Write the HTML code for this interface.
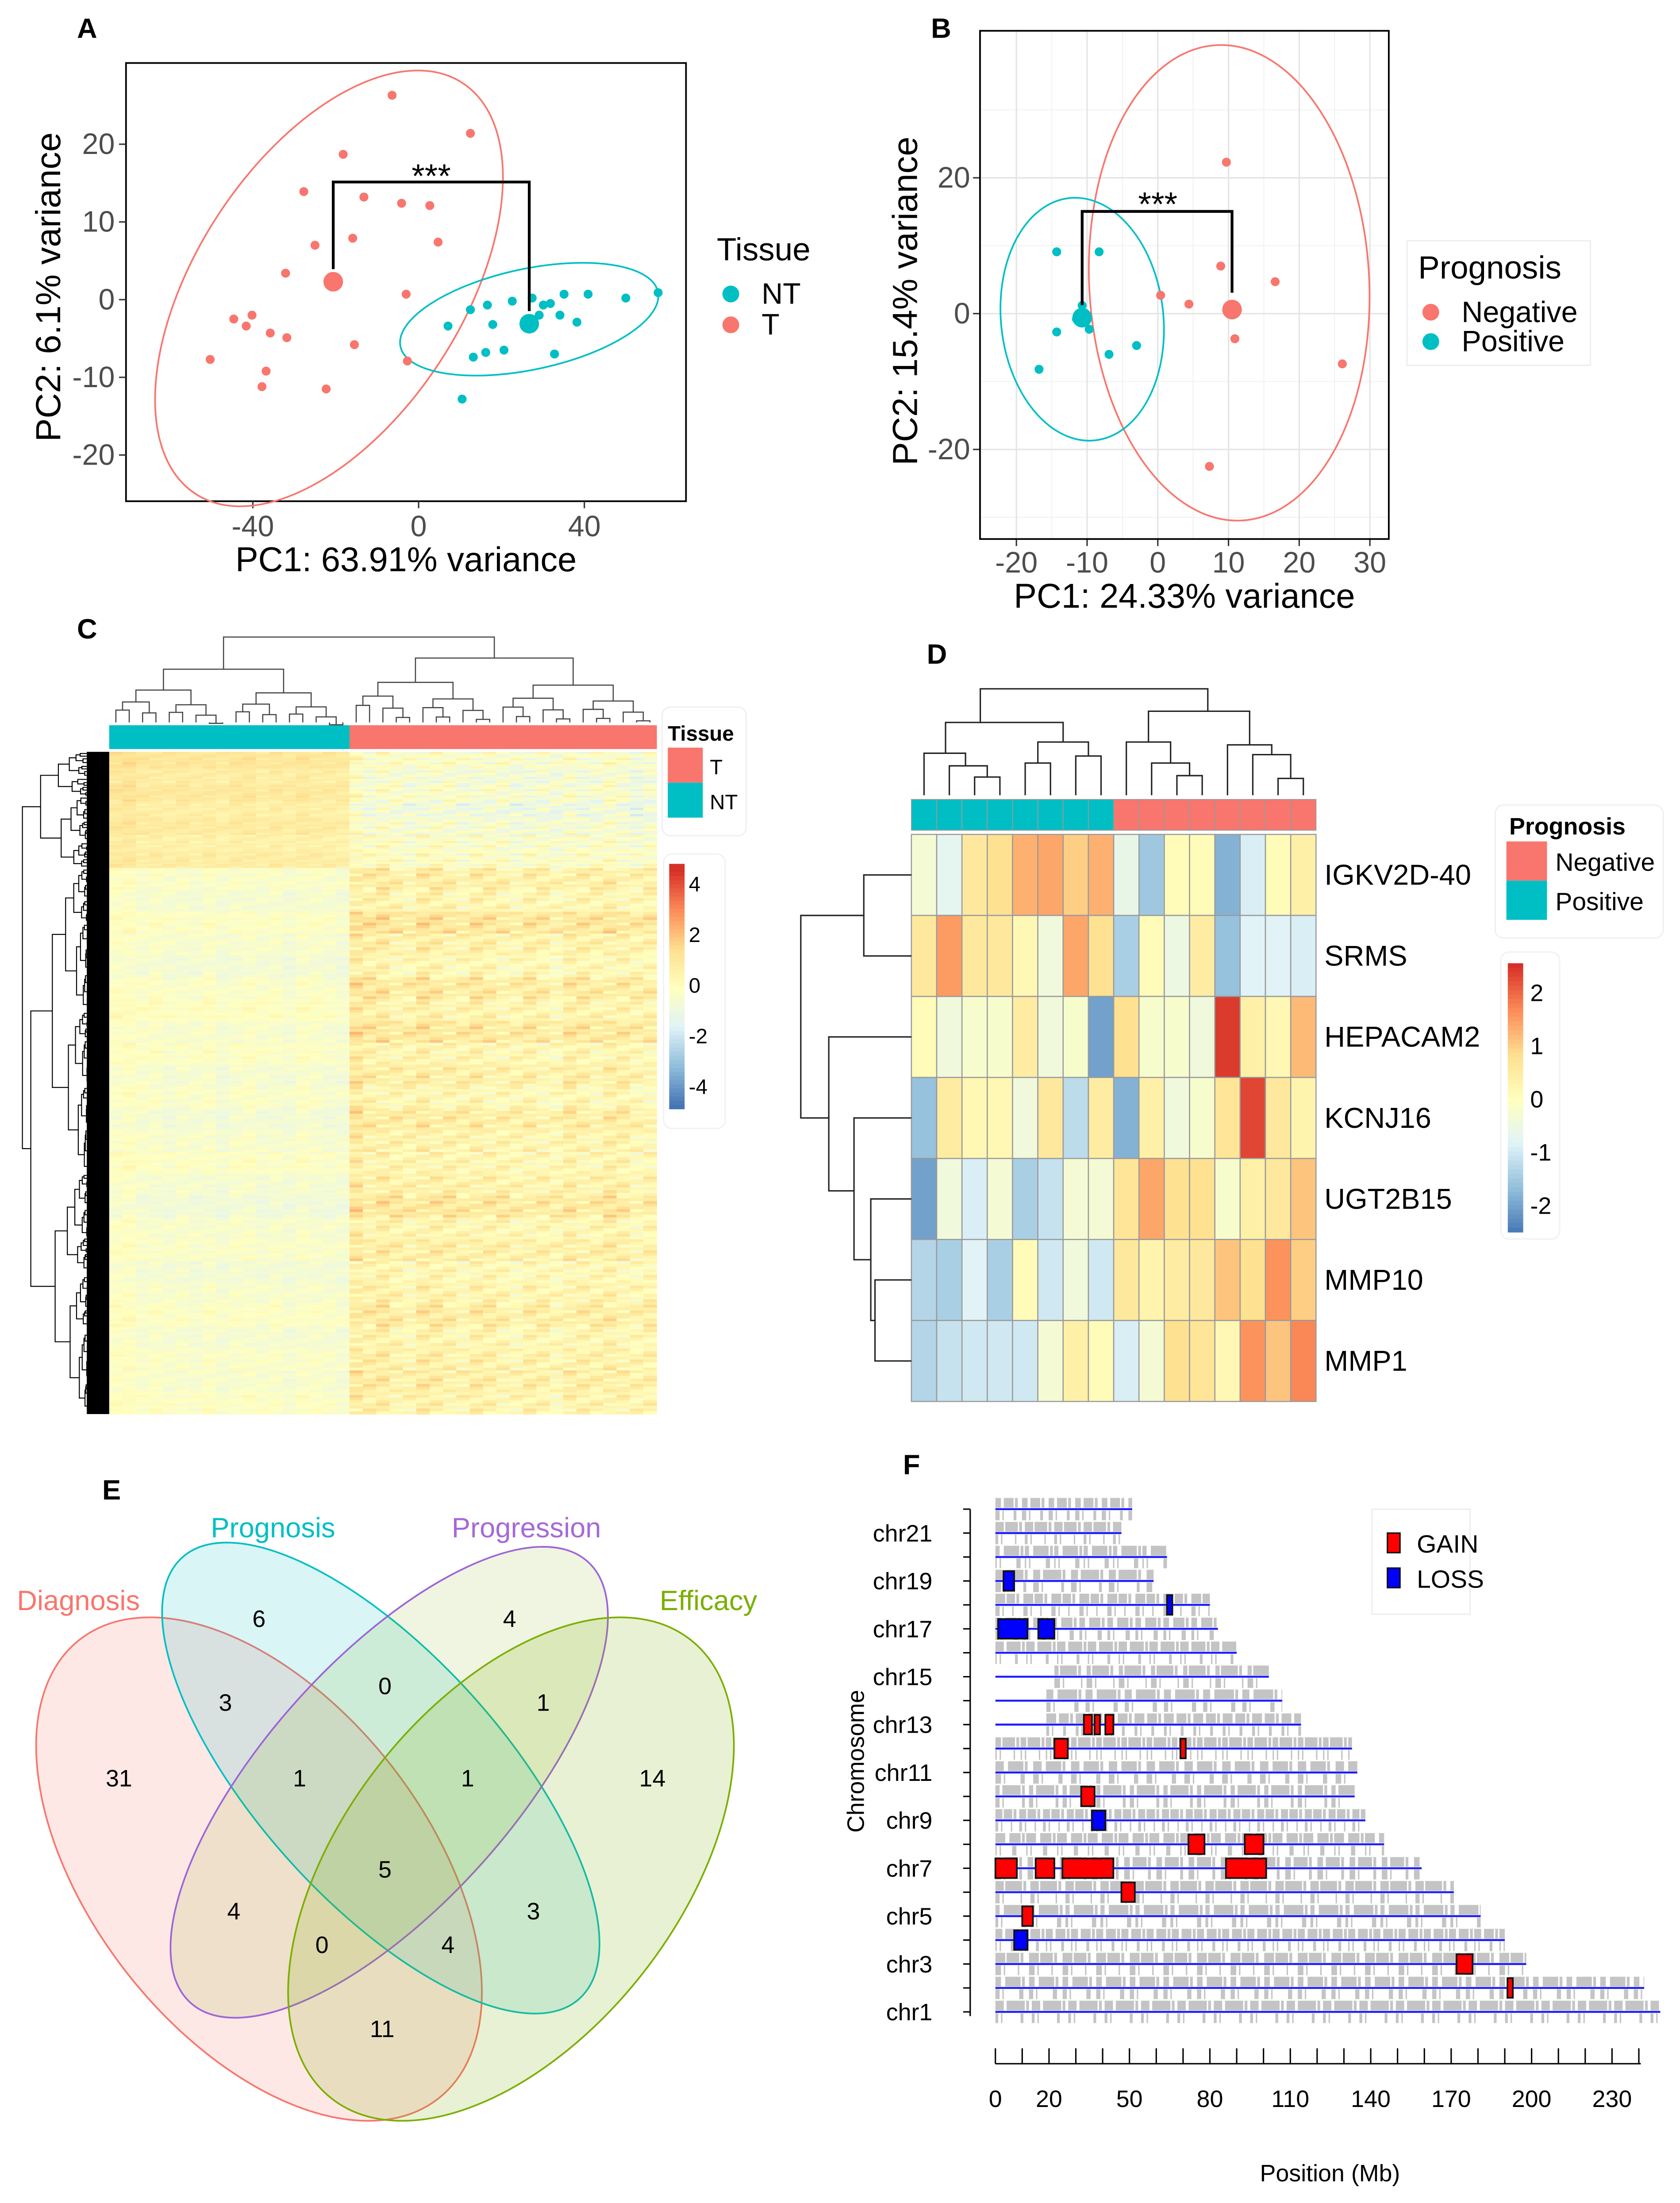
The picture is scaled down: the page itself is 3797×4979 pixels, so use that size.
<!DOCTYPE html>
<html><head><meta charset="utf-8"><style>
html,body{margin:0;padding:0;background:#fff}
svg{display:block}
text{font-family:"Liberation Sans",sans-serif}
.n{font-family:"Liberation Sans Narrow","Liberation Sans",sans-serif}
</style></head><body>
<svg id="fig" width="3797" height="4979" viewBox="0 0 1200 1573.5" preserveAspectRatio="none" xmlns="http://www.w3.org/2000/svg">
<rect width="1200" height="1573.5" fill="#fff"/>
<g id="gA"></g>
<g id="gB"></g>
<g id="gC"></g>
<g id="gD"></g>
<g id="gE"></g>
<g id="gF"></g>
</svg>
<script>
// ---------- DATA ----------
const aTx=[-6.4,12.5,-18.2,-27.7,-13.2,-4.1,2.7,-15.9,-25.0,4.7,-32.1,-3.0,-44.6,-40.2,-41.6,-35.8,-31.8,-50.3,-15.5,-22.3,-36.8,-37.8,-2.7];
const aTy=[26.3,21.4,18.7,13.9,13.2,12.4,12.1,7.9,7.0,7.4,3.4,0.7,-2.5,-2.0,-3.4,-4.3,-4.9,-7.7,-5.8,-11.5,-9.2,-11.2,-7.9];
const aNx=[7.1,12.5,16.6,17.9,22.6,27.4,29.1,30.1,31.8,35.1,34.1,38.2,40.9,50,57.8,20.6,13.2,16.2,32.8,10.5];
const aNy=[-3.4,-1.3,-0.7,-3.2,-0.2,0.2,-2.0,-0.7,-0.5,0.7,-2.0,-2.9,0.7,0.2,0.9,-6.5,-7.4,-6.8,-7.0,-12.8];
const aCent=[[-20.6,2.3],[26.7,-3.1]];
const aXTicks=[-40,0,40], aYTicks=[20,10,0,-10,-20];
const bNx=[9.7,8.9,16.6,0.4,4.4,10.9,26.1,7.3];
const bNy=[22.3,7.0,4.7,2.7,1.4,-3.7,-7.4,-22.5];
const bPx=[-14.3,-8.3,-10.7,-11.5,-14.3,-3.0,-6.9,-16.8,-9.7];
const bPy=[9.1,9.1,1.2,-0.8,-2.7,-4.7,-6.0,-8.2,-2.3];
const bCent=[[10.5,0.6],[-10.7,-0.6]];
const bXTicks=[-20,-10,0,10,20,30], bYTicks=[20,0,-20];
// Panel C
const cGroups=["NT","NT","NT","NT","NT","NT","NT","NT","NT","NT","NT","NT","NT","NT","NT","NT","NT","NT","T","T","T","T","T","T","T","T","T","T","T","T","T","T","T","T","T","T","T","T","T","T","T"];
const cColOff=[0.3,0.4,0.1,0.2,0,0.1,0,0.2,-0.1,0.1,0.2,0,0.1,-0.1,0.2,0.1,0,-0.1,0.6,0.3,0.4,0.2,0.1,0.4,0.3,0.2,0.1,0.3,0.2,0.1,0,0.2,0.1,-0.1,0.3,0.2,0.1,0.3,0.2,0,0.1];
const cRowNT=[1.1,0.8,1.0,0.7,0.9,0.6,0.8,-0.3,-0.5,-0.2,-0.4,-0.6,-0.3,-0.1,-0.4,-0.2,-0.5,-0.3,-0.6,-0.4,-0.2,-0.5,-0.7,-0.4,-0.3,-0.6,-0.4,-0.2,-0.5,-0.3,-0.4,-0.2];
const cRowT=[-0.4,-0.7,-0.5,-0.9,-0.6,-0.4,-0.3,0.5,0.2,0.9,0.4,0.1,0.7,0.3,0.8,0.2,0.5,0.1,0.6,0.3,0.2,0.4,0.8,0.2,0.5,0.1,0.3,0.6,0.2,0.4,0.5,0.3];
const cTicks=[4,2,0,-2,-4];
// Panel D
const dGenes=["IGKV2D-40","SRMS","HEPACAM2","KCNJ16","UGT2B15","MMP10","MMP1"];
const dGroups=["Positive","Positive","Positive","Positive","Positive","Positive","Positive","Positive","Negative","Negative","Negative","Negative","Negative","Negative","Negative","Negative"];
const dIGKV=[-0.3,-0.7,0.6,0.8,1.3,1.4,1.0,1.3,-0.6,-1.5,0.1,0.1,-1.8,-0.9,0.1,0.4];
const dSRMS=[0.6,1.5,0.6,0.6,0.2,-0.4,1.4,0.8,-1.4,0.1,-0.5,0.5,-1.6,-0.8,-0.8,-0.9];
const dHEPA=[0.1,-0.4,-0.2,-0.2,0.5,-0.4,-0.2,-2.0,0.8,-0.2,-0.2,-0.4,2.4,0.4,0.2,1.2];
const dKCNJ=[-1.6,0.5,0.2,0.2,-0.4,0.6,-1.2,0.5,-1.8,0.4,-0.4,-0.2,0.7,2.3,0.6,0.3];
const dUGT=[-2.0,-0.4,-0.9,-0.3,-1.4,-1.1,-0.3,-0.3,0.7,1.4,0.8,0.8,-0.2,0.4,0.6,1.1];
const dMMP10=[-1.3,-1.4,-0.8,-1.4,0.1,-1.0,-0.4,-1.0,0.6,0.3,0.5,0.6,1.1,0.8,1.6,1.0];
const dMMP1=[-1.3,-1.1,-1.0,-1.0,-1.0,-0.3,0.4,0.1,-0.9,-0.3,0.8,0.7,0.2,1.6,1.1,1.7];
const dTicks=[2,1,0,-1,-2];
// Panel E
const vennSets=["Diagnosis","Prognosis","Progression","Efficacy"];
const vennCounts=[31,6,4,14,3,0,1,1,1,5,4,0,4,3,11];
// Panel F
const chrLen=[248,242,198,190,181,171,159,145,138,134,135,133,114,107,102,90,83,80,59,64,47,51];
const gainChr=[13,13,13,12,12,10,8,8,7,7,7,7,6,5,3,2];
const gainStart=[33,37,41,22,69,32,72,93,0,15,25,86,47,10,172,191];
const gainEnd=[36,39,44,27,71,37,78,100,8,22,44,101,52,14,178,193];
const lossChr=[19,17,17,18,9,4];
const lossStart=[3,1,16,64,36,7];
const lossEnd=[7,12,22,66,41,12];
const fTicks=[0,20,50,80,110,140,170,200,230];

// ---------- helpers ----------
const NS="http://www.w3.org/2000/svg";
function mk(parent,tag,attrs,txt){const e=document.createElementNS(NS,tag);for(const k in attrs)e.setAttribute(k,attrs[k]);if(txt!==undefined)e.textContent=txt;parent.appendChild(e);return e;}
const stops=[[-1,[69,117,180]],[-0.66,[145,191,219]],[-0.33,[224,243,248]],[0,[255,255,191]],[0.33,[254,224,144]],[0.66,[252,141,89]],[1,[215,48,39]]];
function col(t){t=Math.max(-1,Math.min(1,t));for(let i=0;i<stops.length-1;i++){const a=stops[i],b=stops[i+1];if(t<=b[0]){const f=(t-a[0])/(b[0]-a[0]);return 'rgb('+a[1].map((v,j)=>Math.round(v+(b[1][j]-v)*f)).join(',')+')';}}return 'rgb(215,48,39)';}
const RED="#F8766D",TEAL="#00BFC4";

// ---------- Panel A ----------
(function(){
const g=document.getElementById('gA');
const x=v=>299+v*2.96, y=v=>214-v*5.55;
let t=mk(g,'text',{x:55,y:27,'font-size':20,'font-weight':'bold'},'A');

mk(g,'rect',{x:90,y:45,width:400,height:313,fill:'none',stroke:'#000','stroke-width':1.2});
aXTicks.forEach(v=>{mk(g,'line',{x1:x(v),x2:x(v),y1:358,y2:363,stroke:'#333'});const e=mk(g,'text',{x:x(v),y:383,'font-size':21,fill:'#4d4d4d','text-anchor':'middle',class:'n'},String(v));});
aYTicks.forEach(v=>{mk(g,'line',{x1:85,x2:90,y1:y(v),y2:y(v),stroke:'#333'});const e=mk(g,'text',{x:82,y:y(v)+7,'font-size':21,fill:'#4d4d4d','text-anchor':'end',class:'n'},String(v));});
let e=mk(g,'text',{x:290,y:408,'font-size':24.5,'text-anchor':'middle',class:'n'},'PC1: 63.91% variance');
e=mk(g,'text',{x:0,y:0,'font-size':25,'text-anchor':'middle',transform:'translate(43,205) rotate(-90)',class:'n'},'PC2: 6.1% variance');
mk(g,'ellipse',{cx:235,cy:206,rx:175,ry:95,transform:'rotate(-57 235 206)',fill:'none',stroke:RED,'stroke-width':1.2});
mk(g,'ellipse',{cx:378,cy:228,rx:94,ry:36,transform:'rotate(-12 378 228)',fill:'none',stroke:TEAL,'stroke-width':1.2});
aTx.forEach((v,i)=>{const c=mk(g,'circle',{cx:x(v),cy:y(aTy[i]),r:3.2,fill:RED});});
aNx.forEach((v,i)=>{const c=mk(g,'circle',{cx:x(v),cy:y(aNy[i]),r:3.2,fill:TEAL});});
const c1=mk(g,'circle',{cx:x(aCent[0][0]),cy:y(aCent[0][1]),r:7,fill:RED});
const c2=mk(g,'circle',{cx:x(aCent[1][0]),cy:y(aCent[1][1]),r:7,fill:TEAL});
mk(g,'path',{d:`M${x(aCent[0][0])} ${y(aCent[0][1])-9} V130 H${x(aCent[1][0])} V${y(aCent[1][1])-9}`,fill:'none',stroke:'#000','stroke-width':2});
mk(g,'text',{x:308,y:134,'font-size':24,'text-anchor':'middle'},'***');
e=mk(g,'text',{x:512,y:186,'font-size':23,class:'n'},'Tissue');
[['NT',TEAL,210],['T',RED,232]].forEach(([l,c,yy])=>{const gg=mk(g,'g',{});mk(gg,'circle',{cx:522,cy:yy,r:6,fill:c});mk(gg,'text',{x:544,y:yy+7,'font-size':21,class:'n'},l);});
})();

// ---------- Panel B ----------
(function(){
const g=document.getElementById('gB');
const x=v=>827+v*5.05, y=v=>224-v*4.85;
let e=mk(g,'text',{x:665,y:27,'font-size':20,'font-weight':'bold'},'B');
mk(g,'rect',{x:700,y:22,width:292,height:363,fill:'#fff',stroke:'none'});
[-25,-15,-5,5,15,25].forEach(v=>mk(g,'line',{x1:x(v),x2:x(v),y1:22,y2:385,stroke:'#f0f0f0','stroke-width':0.6}));
[30,10,-10,-30].forEach(v=>mk(g,'line',{x1:700,x2:992,y1:y(v),y2:y(v),stroke:'#f0f0f0','stroke-width':0.6}));
bXTicks.forEach(v=>{mk(g,'line',{x1:x(v),x2:x(v),y1:22,y2:385,stroke:'#e4e4e4','stroke-width':1});mk(g,'line',{x1:x(v),x2:x(v),y1:385,y2:390,stroke:'#333'});const t=mk(g,'text',{x:x(v),y:409,'font-size':21,fill:'#4d4d4d','text-anchor':'middle',class:'n'},String(v));});
bYTicks.forEach(v=>{mk(g,'line',{x1:700,x2:992,y1:y(v),y2:y(v),stroke:'#e4e4e4','stroke-width':1});mk(g,'line',{x1:695,x2:700,y1:y(v),y2:y(v),stroke:'#333'});const t=mk(g,'text',{x:693,y:y(v)+7,'font-size':21,fill:'#4d4d4d','text-anchor':'end',class:'n'},String(v));});
mk(g,'rect',{x:700,y:22,width:292,height:363,fill:'none',stroke:'#000','stroke-width':1.2});
e=mk(g,'text',{x:846,y:434,'font-size':24.5,'text-anchor':'middle',class:'n'},'PC1: 24.33% variance');
e=mk(g,'text',{x:0,y:0,'font-size':25,'text-anchor':'middle',transform:'translate(655,215) rotate(-90)',class:'n'},'PC2: 15.4% variance');
mk(g,'ellipse',{cx:878,cy:202,rx:100,ry:170,transform:'rotate(-3 878 202)',fill:'none',stroke:RED,'stroke-width':1.2});
mk(g,'ellipse',{cx:773,cy:228,rx:58,ry:87,transform:'rotate(-6 773 228)',fill:'none',stroke:TEAL,'stroke-width':1.2});
bNx.forEach((v,i)=>{const c=mk(g,'circle',{cx:x(v),cy:y(bNy[i]),r:3.2,fill:RED});});
bPx.forEach((v,i)=>{const c=mk(g,'circle',{cx:x(v),cy:y(bPy[i]),r:3.2,fill:TEAL});});
let c=mk(g,'circle',{cx:x(bCent[0][0]),cy:y(bCent[0][1]),r:7,fill:RED});
c=mk(g,'circle',{cx:x(bCent[1][0]),cy:y(bCent[1][1]),r:7,fill:TEAL});
mk(g,'path',{d:`M${x(bCent[1][0])} ${y(bCent[1][1])-9} V151 H${x(bCent[0][0])} V${y(bCent[0][1])-12}`,fill:'none',stroke:'#000','stroke-width':2});
mk(g,'text',{x:827,y:154,'font-size':24,'text-anchor':'middle'},'***');
mk(g,'rect',{x:1005,y:172,width:131,height:89,fill:'#fff',stroke:'#eee'});
e=mk(g,'text',{x:1013,y:199,'font-size':23,class:'n'},'Prognosis');
[['Negative',RED,223],['Positive',TEAL,244]].forEach(([l,cc,yy])=>{const gg=mk(g,'g',{});mk(gg,'circle',{cx:1022,cy:yy,r:6,fill:cc});mk(gg,'text',{x:1044,y:yy+7,'font-size':21,class:'n'},l);});
})();

// ---------- Panel C ----------
(function(){
const g=document.getElementById('gC');
let e=mk(g,'text',{x:55,y:456,'font-size':20,'font-weight':'bold'},'C');
const x0=78,x1=469,y0=537,y1=1010,n=cGroups.length,cw=(x1-x0)/n;
cGroups.forEach((gr,i)=>{const r=mk(g,'rect',{x:x0+i*cw,y:518,width:cw+0.2,height:17,fill:gr==='NT'?TEAL:RED});});
const nr=cRowNT.length, topH=83, restH=(y1-y0-topH)/(nr-7);
const sub=8;
for(let r=0;r<nr;r++){
  const ry=r<7? y0+r*topH/7 : y0+topH+(r-7)*restH;
  const rh=r<7? topH/7 : restH;
  for(let s=0;s<sub;s++){
    const wob=((r*7+s*3)%5-2)*0.25;
    cGroups.forEach((gr,i)=>{
      const base=gr==='NT'?cRowNT[r]:cRowT[r];
      const v=base+cColOff[i]*(gr==='NT'?0.8:1)+wob*(((i*5+s*3+r)%4)-1.5)*(gr==='T'?1.2:0.5);
      const rc=mk(g,'rect',{x:x0+i*cw,y:ry+s*rh/sub,width:cw+0.3,height:rh/sub+0.3,fill:col(v/4.6)});
      
    });
  }
}
const L=i=>x0+(i+0.5)*cw;
function tree(lo,hi,h,depth){ if(hi-lo<1) return {x:L(lo),h:516};
  const mid=Math.floor((lo+hi+1)/2); const hc=h+ (516-h)/(depth+2.2);
  const a=tree(lo,mid-1,hc+3,depth+1), b=tree(mid,hi,hc+5,depth+1);
  mk(g,'path',{d:`M${a.x} ${a.h} V${h} H${b.x} V${b.h}`,fill:'none',stroke:'#444','stroke-width':0.8});
  return {x:(a.x+b.x)/2,h:h};}
const A=tree(0,17,478,1),B=tree(18,n-1,470,1);
mk(g,'path',{d:`M${A.x} ${A.h} V455 H${B.x} V${B.h}`,fill:'none',stroke:'#444','stroke-width':0.8});
mk(g,'rect',{x:62,y:y0,width:16,height:y1-y0,fill:'#000'});
function rtree(a,b,xx,d){ if(d>7||b-a<3){mk(g,'line',{x1:xx,x2:62,y1:(a+b)/2,y2:(a+b)/2,stroke:'#000','stroke-width':0.7});return (a+b)/2;}
  const m=a+(b-a)*(0.35+0.3*((d*37+a)%10)/10); const nx=xx+(62-xx)/(2.6);
  const p=rtree(a,m,nx,d+1),q=rtree(m,b,nx+2,d+1);
  mk(g,'path',{d:`M${nx} ${p} H${xx} V${q} H${nx+2}`,fill:'none',stroke:'#000','stroke-width':0.7});return (p+q)/2;}
const top=rtree(y0,620,29,2), bot=rtree(620,y1,22,1);
mk(g,'path',{d:`M29 ${top} H16 V${bot} H22`,fill:'none',stroke:'#000','stroke-width':0.7});
mk(g,'rect',{x:473,y:505,width:60,height:92,rx:6,fill:'#fff',stroke:'#f0f0f0'});
e=mk(g,'text',{x:477,y:529,'font-size':15,'font-weight':'bold'},'Tissue');
[['T',RED,534],['NT',TEAL,559]].forEach(([l,cc,yy])=>{const gg=mk(g,'g',{});mk(gg,'rect',{x:477,y:yy,width:25,height:25,fill:cc});mk(gg,'text',{x:507,y:yy+19,'font-size':15},l);});
mk(g,'rect',{x:474,y:610,width:44,height:196,rx:6,fill:'#fff',stroke:'#f2f2f2'});
const cb=mk(g,'g',{});
for(let k=0;k<60;k++){const v=4.8-k*9.6/60;mk(cb,'rect',{x:478,y:617+k*175/60,width:11,height:175/60+0.3,fill:col(v/4.6)});}
cTicks.forEach(v=>{const t=mk(g,'text',{x:492,y:703-v*18.1+6,'font-size':15},String(v));});
})();

// ---------- Panel D ----------
(function(){
const g=document.getElementById('gD');
let e=mk(g,'text',{x:662,y:474,'font-size':20,'font-weight':'bold'},'D');
const rows=[dIGKV,dSRMS,dHEPA,dKCNJ,dUGT,dMMP10,dMMP1];
const x0=651,x1=940,y0=596,y1=1001,cw=(x1-x0)/dGroups.length,rh=(y1-y0)/rows.length;
dGroups.forEach((gr,i)=>{const r=mk(g,'rect',{x:x0+i*cw,y:571,width:cw,height:22,fill:gr==='Positive'?TEAL:RED,stroke:'#9a9a9a','stroke-width':0.6});});
rows.forEach((row,ri)=>{row.forEach((v,ci)=>{const r=mk(g,'rect',{x:x0+ci*cw,y:y0+ri*rh,width:cw,height:rh,fill:col(v/2.5),stroke:'#9a9a9a','stroke-width':0.8});});
  const t=mk(g,'text',{x:946,y:y0+ri*rh+rh/2+7,'font-size':20.5},dGenes[ri]);});
const X=i=>x0+(i+0.5)*cw;const st={fill:'none',stroke:'#222','stroke-width':1};
const P=(d)=>mk(g,'path',Object.assign({d:d},st));
P(`M${X(2)} 568 V555 H${X(3)} V568`);P(`M${X(1)} 568 V547 H${(X(2)+X(3))/2} V555`);
P(`M${X(0)} 568 V538 H${(X(1)+X(2.5))/2-2} V547`);
P(`M${X(4)} 568 V545 H${X(5)} V568`);P(`M${X(6)} 568 V540 H${X(7)} V568`);
P(`M${(X(4)+X(5))/2} 545 V530 H${(X(6)+X(7))/2} V540`);
P(`M${(X(0)+X(1.7))/2} 538 V516 H${(X(4.5)+X(6.5))/2} V530`);
P(`M${X(10)} 568 V554 H${X(11)} V568`);P(`M${X(9)} 568 V545 H${(X(10)+X(11))/2} V554`);
P(`M${X(8)} 568 V530 H${(X(9)+X(10.5))/2} V545`);
P(`M${X(14)} 568 V556 H${X(15)} V568`);P(`M${X(13)} 568 V539 H${(X(14)+X(15))/2} V556`);
P(`M${X(12)} 568 V532 H${(X(13)+X(14.5))/2} V539`);
P(`M${(X(8)+X(9.75))/2} 530 V508 H${(X(12)+X(13.75))/2} V532`);
P(`M${(X(1)+X(5))/2-14} 516 V492 H${(X(10)+X(12))/2+4} V508`);
const Y=r=>y0+(r+0.5)*rh;
P(`M651 ${Y(0)} H617 V${Y(1)} H651`);
P(`M651 ${Y(5)} H625 V${Y(6)} H651`);P(`M651 ${Y(4)} H622 V${(Y(5)+Y(6))/2} H625`);
P(`M651 ${Y(3)} H610 V${(Y(4)+Y(5.5))/2} H622`);P(`M651 ${Y(2)} H592 V${(Y(3)+Y(4.8))/2} H610`);
P(`M617 ${(Y(0)+Y(1))/2} H572 V${(Y(2)+Y(4))/2} H592`);
mk(g,'rect',{x:1068,y:575,width:120,height:95,rx:6,fill:'#fff',stroke:'#f0f0f0'});
e=mk(g,'text',{x:1078,y:596,'font-size':17,'font-weight':'bold'},'Prognosis');
[['Negative',RED,601],['Positive',TEAL,629]].forEach(([l,cc,yy])=>{const gg=mk(g,'g',{});mk(gg,'rect',{x:1076,y:yy,width:29,height:28,fill:cc});mk(gg,'text',{x:1111,y:yy+21,'font-size':18},l);});
mk(g,'rect',{x:1072,y:680,width:42,height:205,rx:6,fill:'#fff',stroke:'#f2f2f2'});
const cb=mk(g,'g',{});
for(let k=0;k<60;k++){const v=2.5-k*5/60;mk(cb,'rect',{x:1077,y:688+k*192/60,width:11,height:192/60+0.3,fill:col(v/2.5)});}
dTicks.forEach(v=>{const t=mk(g,'text',{x:1093,y:784-v*38+7,'font-size':17},String(v));});
})();

// ---------- Panel E ----------
(function(){
const g=document.getElementById('gE');
let e=mk(g,'text',{x:73,y:1071,'font-size':20,'font-weight':'bold'},'E');
const ell=[[185,1335,-38,120,208,'rgba(248,118,109,0.17)','#F8766D'],[272,1270,-42,88,212,'rgba(0,191,196,0.15)','#00BFC4'],[278,1273,42,88,212,'rgba(124,174,0,0.12)','#9E64D8'],[365,1335,38,120,208,'rgba(124,174,0,0.17)','#7CAE00']];
ell.forEach((p,i)=>{const el=mk(g,'ellipse',{cx:p[0],cy:p[1],rx:p[3],ry:p[4],transform:`rotate(${p[2]} ${p[0]} ${p[1]})`,fill:p[5],stroke:p[6],'stroke-width':1.2});});
const lab=[[56,1150,'#F8766D'],[195,1098,'#00BFC4'],[376,1098,'#A569D8'],[506,1150,'#7CAE00']];
vennSets.forEach((s,i)=>{const t=mk(g,'text',{x:lab[i][0],y:lab[i][1],'font-size':20,fill:lab[i][2],'text-anchor':'middle',class:'n'},s);});
const pos=[[85,1276],[185,1162],[364,1162],[466,1276],[161,1222],[275,1210],[388,1222],[214,1276],[334,1276],[275,1341],[167,1371],[230,1395],[320,1395],[381,1371],[273,1455]];
vennCounts.forEach((c,i)=>{const t=mk(g,'text',{x:pos[i][0],y:pos[i][1],'font-size':17,'text-anchor':'middle',class:'n'},String(c));});
})();

// ---------- Panel F ----------
(function(){
const g=document.getElementById('gF');
let e=mk(g,'text',{x:645,y:1053,'font-size':20,'font-weight':'bold'},'F');
const X=v=>711+v*1.915, Y=c=>1437-(c-1)*17.1;
mk(g,'line',{x1:693,x2:693,y1:1078,y2:1440,stroke:'#000','stroke-width':1});
chrLen.forEach((L,i)=>{const c=i+1,y=Y(c);
  const gg=mk(g,'g',{});
  const st=(c>=13&&c<=15)?X(c===15?22:19):X(0);
  const dash=(3+(c*3)%5)+' '+(1+(c%3))+' '+(6+(c*7)%9)+' 1 2 '+(1+(c*5)%4);
  mk(gg,'line',{x1:st,x2:X(L),y1:y-4.5,y2:y-4.5,stroke:'#c4c4c4','stroke-width':7,'stroke-dasharray':dash});
  mk(gg,'line',{x1:st,x2:X(L),y1:y+4.5,y2:y+4.5,stroke:'#c4c4c4','stroke-width':7,'stroke-dasharray':dash.split(' ').reverse().join(' ')});
  mk(gg,'line',{x1:X(0),x2:X(L),y1:y,y2:y,stroke:'#1a1aff','stroke-width':1.4});
  mk(g,'line',{x1:688,x2:693,y1:y,y2:y,stroke:'#000'});
  if(c%2===1){const t=mk(g,'text',{x:666,y:y+6,'font-size':17,'text-anchor':'end'},'chr'+c);}
});
gainChr.forEach((c,i)=>{const r=mk(g,'rect',{x:X(gainStart[i]),y:Y(c)-7,width:Math.max(2,X(gainEnd[i])-X(gainStart[i])),height:14,fill:'#ff0000',stroke:'#111','stroke-width':1.2});});
lossChr.forEach((c,i)=>{const r=mk(g,'rect',{x:X(lossStart[i]),y:Y(c)-7,width:Math.max(2,X(lossEnd[i])-X(lossStart[i])),height:14,fill:'#0000ff',stroke:'#111','stroke-width':1.2});});
mk(g,'line',{x1:711,x2:1172,y1:1474,y2:1474,stroke:'#000'});
for(let v=0;v<=240;v+=10){mk(g,'line',{x1:X(v),x2:X(v),y1:1463,y2:1474,stroke:'#000'});}
fTicks.forEach(v=>{const t=mk(g,'text',{x:X(v),y:1505,'font-size':17,'text-anchor':'middle'},String(v));});
e=mk(g,'text',{x:950,y:1558,'font-size':17,'text-anchor':'middle'},'Position (Mb)');
e=mk(g,'text',{x:0,y:0,'font-size':17,'text-anchor':'middle',transform:'translate(617,1258) rotate(-90)'},'Chromosome');
mk(g,'rect',{x:980,y:1078,width:70,height:75,fill:'#fff',stroke:'#eee'});
[['GAIN','#ff0000',1102],['LOSS','#0000ff',1127]].forEach(([l,cc,yy])=>{const gg=mk(g,'g',{});mk(gg,'rect',{x:991,y:yy-7,width:9,height:14,fill:cc,stroke:'#111'});mk(gg,'text',{x:1012,y:yy+7,'font-size':18},l);});
})();
</script>
</body></html>
